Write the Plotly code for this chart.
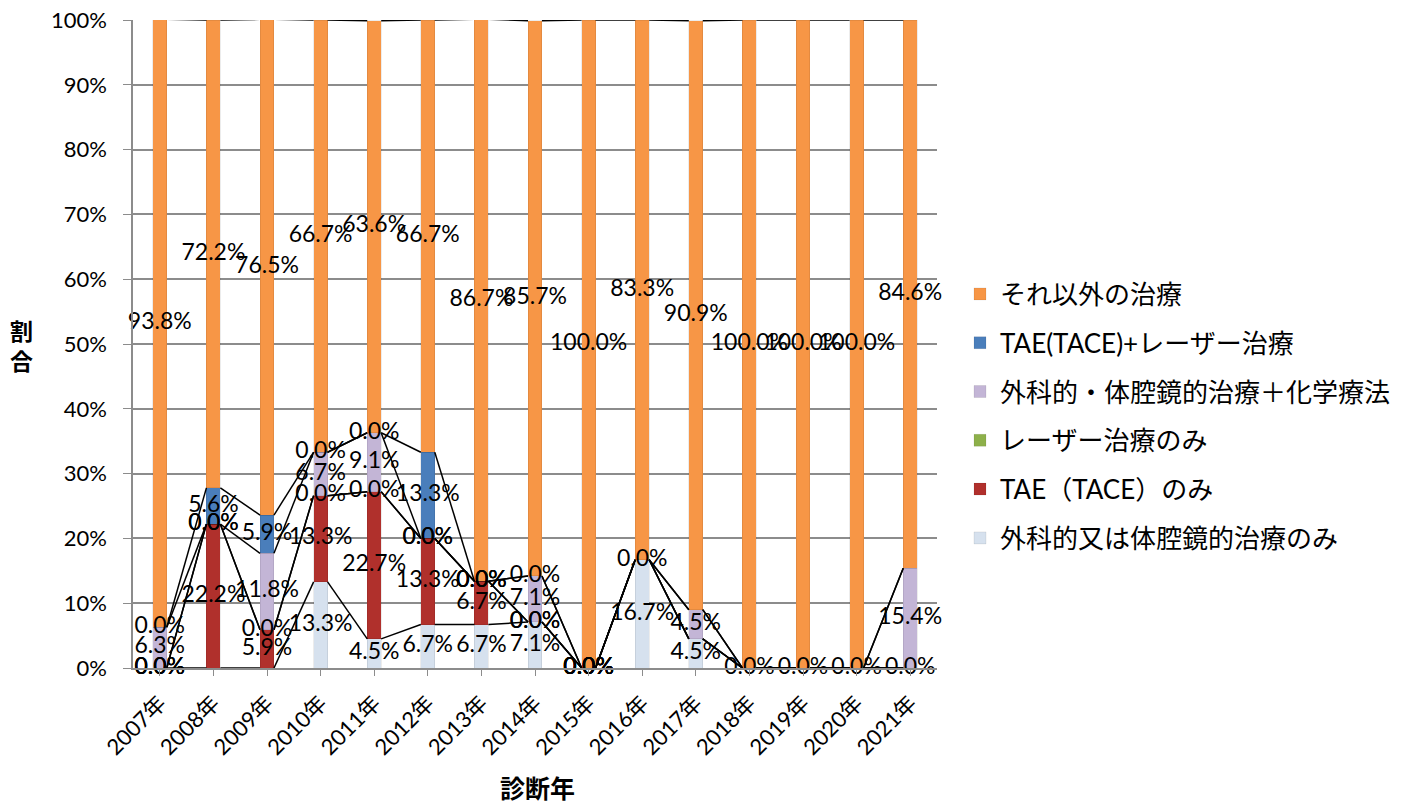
import plotly.graph_objects as go

years = ["2007年", "2008年", "2009年", "2010年", "2011年", "2012年", "2013年", "2014年",
         "2015年", "2016年", "2017年", "2018年", "2019年", "2020年", "2021年"]

# bottom -> top stacking order (None = no entry / no label in the source)
surgery_only = [0.0, None, None, 13.3, 4.5, 6.7, 6.7, 7.1, 0.0, 16.7, 4.5, 0.0, 0.0, 0.0, 0.0]
tae_only = [0.0, 22.2, 5.9, 13.3, 22.7, 13.3, 6.7, 0.0, 0.0, None, None, None, None, None, None]
laser_only = [0.0, 0.0, 0.0, 0.0, 0.0, 0.0, 0.0, 0.0, 0.0, None, None, None, None, None, None]
surgery_chemo = [6.3, 0.0, 11.8, 6.7, 9.1, 0.0, 0.0, 7.1, 0.0, 0.0, 4.5, None, None, None, 15.4]
tae_laser = [0.0, 5.6, 5.9, 0.0, 0.0, 13.3, 0.0, 0.0, 0.0, None, None, None, None, None, None]
other = [93.8, 72.2, 76.5, 66.7, 63.6, 66.7, 86.7, 85.7, 100.0, 83.3, 90.9, 100.0, 100.0, 100.0, 84.6]

series = [
    ("外科的又は体腔鏡的治療のみ", surgery_only, "#D6E1EE"),
    ("TAE（TACE）のみ", tae_only, "#B0302C"),
    ("レーザー治療のみ", laser_only, "#8DB04A"),
    ("外科的・体腔鏡的治療＋化学療法", surgery_chemo, "#C3B5D6"),
    ("TAE(TACE)+レーザー治療", tae_laser, "#4A7EBB"),
    ("それ以外の治療", other, "#F79646"),
]

FONT = "Lato, 'Noto Sans CJK JP', sans-serif"
BW = 0.26
idx = list(range(len(years)))

W, H = 1406, 807
PL, PR, PT, PB = 133, 937, 20, 668  # plot area in pixels

fig = go.Figure()

n = len(series)
for i, (name, vals, col) in enumerate(series):
    fig.add_trace(go.Bar(
        x=idx, y=vals, name=name, width=BW,
        marker=dict(color=col, line=dict(color="rgba(0,0,0,0.15)", width=0.5)),
        legendgroup=name, legendrank=100 + (n - i), hoverinfo="skip",
    ))

cum_prev = [0.0] * len(years)
tops, centers = [], []
for name, vals, col in series:
    v0 = [v if v is not None else 0.0 for v in vals]
    top = [c + v for c, v in zip(cum_prev, v0)]
    centers.append([(c + v / 2) if v is not None else None for c, v in zip(cum_prev, vals)])
    tops.append(top)
    cum_prev = top

# series lines
for s, top in enumerate(tops):
    lx, ly = [], []
    for j in range(len(years) - 1):
        lx += [idx[j] + BW / 2, idx[j + 1] - BW / 2, None]
        ly += [top[j], top[j + 1], None]
    fig.add_trace(go.Scatter(x=lx, y=ly, mode="lines", line=dict(color="black", width=1.5),
                             showlegend=False, hoverinfo="skip"))

# data labels
for s, (name, vals, col) in enumerate(series):
    fig.add_trace(go.Scatter(
        x=idx, y=centers[s], mode="text",
        text=[f"{v:.1f}%" if v is not None else "" for v in vals],
        textposition="middle center",
        textfont=dict(family=FONT, size=23, color="black"),
        showlegend=False, hoverinfo="skip", cliponaxis=False,
    ))

pw, ph = PR - PL, PB - PT

fig.update_layout(
    barmode="stack",
    width=W, height=H, autosize=False,
    margin=dict(l=PL, r=W - PR, t=PT, b=H - PB, autoexpand=False),
    paper_bgcolor="white", plot_bgcolor="white",
    font=dict(family=FONT, size=22, color="black"),
    showlegend=True,
    legend=dict(
        x=(960 - PL) / pw, xanchor="left", y=(PB - 416) / ph, yanchor="middle",
        traceorder="grouped", tracegroupgap=12,
        font=dict(family=FONT, size=26, color="black"),
        itemwidth=30,
    ),
    xaxis=dict(
        tickmode="array", tickvals=idx, ticktext=years, tickangle=-45,
        range=[-0.5, len(years) - 0.5], automargin=False,
        showgrid=False, zeroline=False,
        showline=True, linecolor="#8c8c8c", linewidth=1.5,
        ticks="outside", ticklen=6, tickcolor="#8c8c8c",
        ticklabelstandoff=6, ticklabeloverflow="allow",
        tickfont=dict(family=FONT, size=22, color="black"),
    ),
    yaxis=dict(
        range=[0, 100], dtick=10, ticksuffix="%", automargin=False,
        showgrid=True, gridcolor="#8c8c8c", gridwidth=1.5,
        zeroline=False,
        showline=True, linecolor="#8c8c8c", linewidth=1.5,
        ticks="outside", ticklen=8, tickcolor="#8c8c8c",
        ticklabelstandoff=12, ticklabeloverflow="allow",
        tickfont=dict(family=FONT, size=22, color="black"),
    ),
    annotations=[
        dict(text="<b>診断年</b>", xref="paper", yref="paper", x=(537 - PL) / pw, y=(PB - 787) / ph,
             xanchor="center", yanchor="middle", showarrow=False,
             font=dict(family="'Noto Sans CJK JP', sans-serif", size=25, color="black")),
        dict(text="<b>割<br>合</b>", xref="paper", yref="paper", x=(22 - PL) / pw, y=(PB - 345) / ph,
             xanchor="center", yanchor="middle", showarrow=False,
             font=dict(family="'Noto Sans CJK JP', sans-serif", size=23, color="black")),
    ],
)

fig.write_html("out.html", config={"displayModeBar": False},
               post_script="document.body.style.margin='0';document.body.style.overflow='hidden';")
